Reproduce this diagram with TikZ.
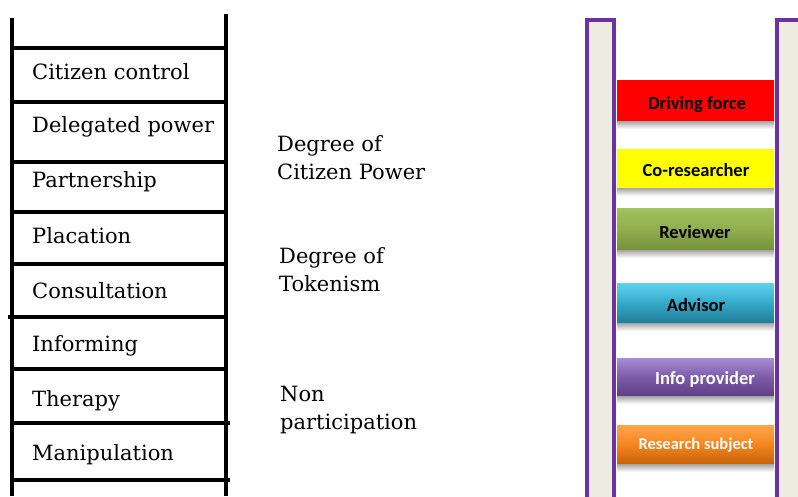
\documentclass[tikz,border=0pt]{standalone}
\usepackage{fontspec}
\newfontfamily\slabfont{DejaVu Serif}
\newfontfamily\calibrifont{Carlito}
\definecolor{railpurple}{HTML}{7030A0}
\definecolor{railfill}{HTML}{EEECE1}
\definecolor{revtop}{HTML}{A2C25C}
\definecolor{revbot}{HTML}{76923C}
\definecolor{advtop}{HTML}{5ED3F0}
\definecolor{advmid}{HTML}{35AACB}
\definecolor{advbot}{HTML}{217F99}
\definecolor{inftop}{HTML}{A68CD6}
\definecolor{infmid}{HTML}{7E5DA8}
\definecolor{infbot}{HTML}{5F3F86}
\definecolor{orgtop}{HTML}{FFA54A}
\definecolor{orgmid}{HTML}{F5861F}
\definecolor{orgbot}{HTML}{C9640A}
\tikzset{
  rail/.style={line width=3.5pt, black},
  rung/.style={line width=3.5pt, black},
  rungtext/.style={anchor=west, font=\slabfont\fontsize{21}{23}\selectfont, inner sep=0pt},
  sidetext/.style={anchor=north west, align=left, font=\slabfont\fontsize{21}{28}\selectfont, inner sep=0pt},
  rolerail/.style={draw=railpurple, line width=4pt, fill=railfill},
  roletext/.style={font=\calibrifont\bfseries\fontsize{18.5}{20}\selectfont, inner sep=0pt}
}
% bar with top/middle/bottom colours and a soft shadow underneath
\newcommand{\rolebar}[5]{%
  \shade[top color=black!40, bottom color=white] (617,#2) rectangle (774,#2+9);
  \shade[top color=#3, bottom color=#5, middle color=#4] (617,#1) rectangle (774,#2);
}
\begin{document}
\begin{tikzpicture}[x=1pt,y=-1pt]
\useasboundingbox (0,0) rectangle (798,496);
\clip (0,0) rectangle (798,496);
\fill[white] (0,0) rectangle (798,496);

% ---- Arnstein's ladder ----
\coordinate (lt) at (12,18);
\coordinate (lb) at (12,496);
\coordinate (rt) at (226,14);
\coordinate (rb) at (226,496);
\draw[rail] (lt) -- (lb);
\draw[rail] (rt) -- (rb);
\foreach \y/\xa/\xb in {48/12/226, 102/12/226, 162/12/226, 212/12/226, 264/12/226, 317/8/226, 369/12/226, 423/12/230, 480/12/230}{
  \draw[rung] (\xa,\y) -- (\xb,\y);
}
\node[rungtext] (cc) at (32,72) {Citizen control};
\node[rungtext] (dp) at (32,127) {Delegated power};
\node[rungtext] (pa) at (32,182) {Partnership};
\node[rungtext] (pl) at (32,236) {Placation};
\node[rungtext] (co) at (32,291) {Consultation};
\node[rungtext] (in) at (32,346) {Informing};
\node[rungtext] (th) at (32,401) {Therapy};
\node[rungtext] (ma) at (32,455) {Manipulation};

\node[sidetext] (power) at (277,135) {Degree of\\Citizen Power};
\node[sidetext] (token) at (279,247) {Degree of\\Tokenism};
\node[sidetext] (nonp) at (280,386) {Non\\participation};

% ---- participation roles ladder ----
\draw[rolerail] (587,20) rectangle (614,520);
\draw[rolerail] (777,20) rectangle (820,520);

\rolebar{80}{120}{red}{red}{red}
\rolebar{149}{187}{yellow}{yellow}{yellow}
\rolebar{208}{249}{revtop}{revtop!60!revbot}{revbot}
\rolebar{283}{322}{advtop}{advmid}{advbot}
\rolebar{358}{395}{inftop}{infmid}{infbot}
\rolebar{425}{463}{orgtop}{orgmid}{orgbot}

\node[roletext] (df) at (697,105) {Driving force};
\node[roletext] (cr) at (696,170) {Co-researcher};
\node[roletext] (rv) at (695,232) {Reviewer};
\node[roletext] (ad) at (696,305) {Advisor};
\node[roletext, text=white] (ip) at (705,379) {Info provider};
\node[roletext, text=white, font=\calibrifont\bfseries\fontsize{16.5}{18}\selectfont] (rs) at (696,445) {Research subject};
\end{tikzpicture}
\end{document}
